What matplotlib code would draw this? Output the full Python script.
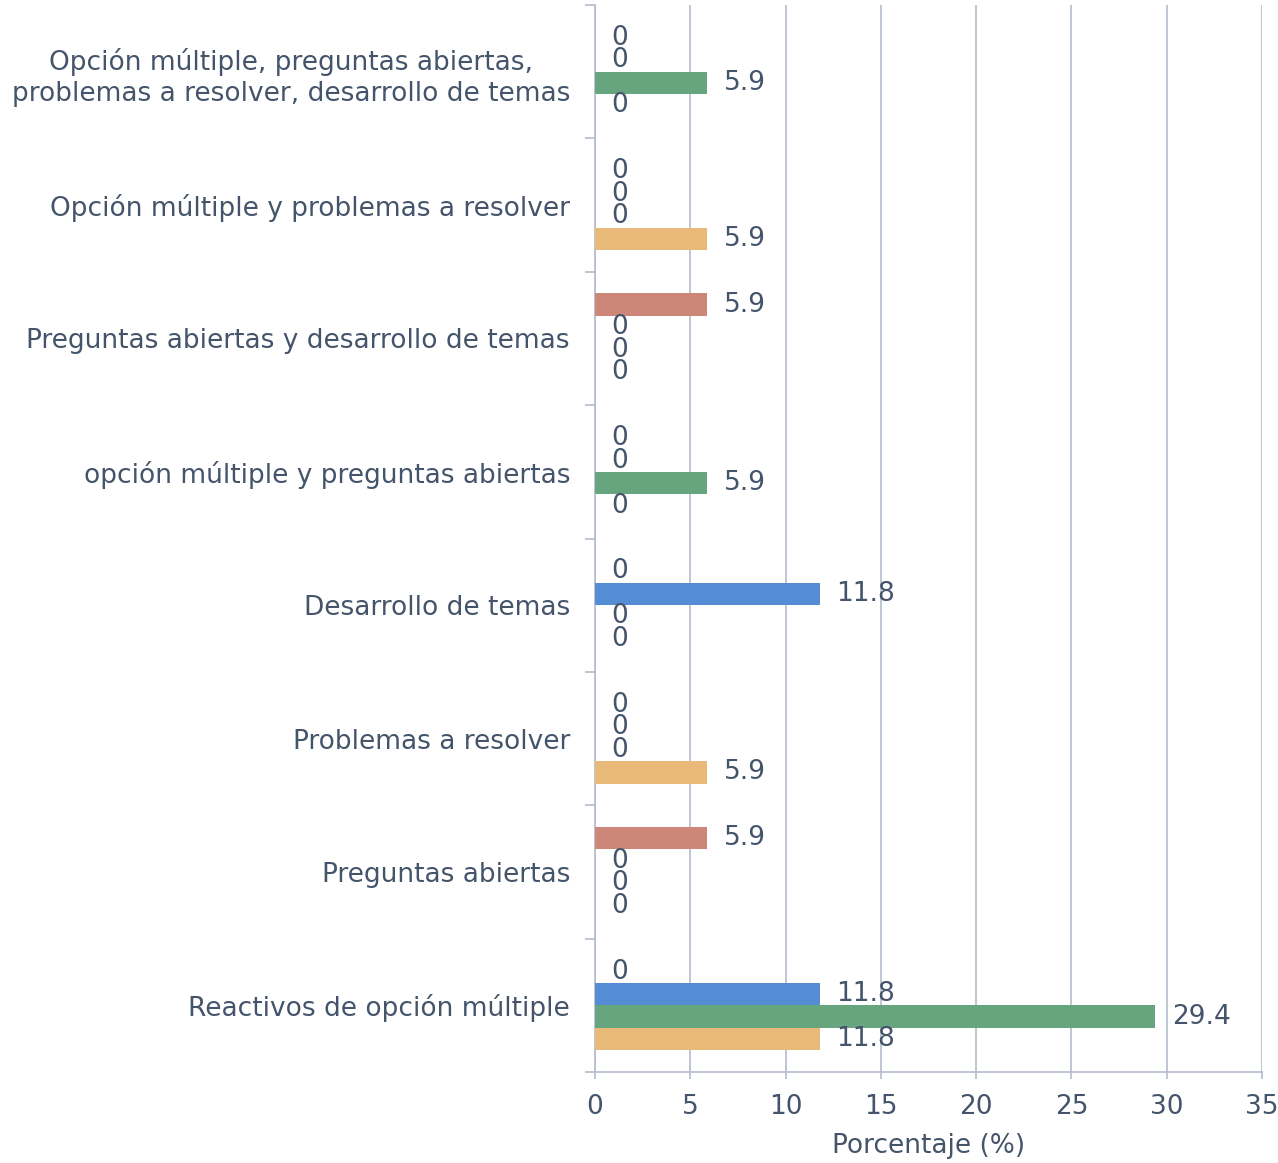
import matplotlib
matplotlib.use("Agg")
import matplotlib.pyplot as plt
import numpy as np

categories = [
    "Reactivos de opción múltiple",
    "Preguntas abiertas",
    "Problemas a resolver",
    "Desarrollo de temas",
    "opción múltiple y preguntas abiertas",
    "Preguntas abiertas y desarrollo de temas",
    "Opción múltiple y problemas a resolver",
    "Opción múltiple, preguntas abiertas,\nproblemas a resolver, desarrollo de temas",
]
# series listed top-to-bottom within each group
series_names = ["Serie 1", "Serie 2", "Serie 3", "Serie 4"]
serie1 = [0, 5.9, 0, 0, 0, 5.9, 0, 0]
serie2 = [11.8, 0, 0, 11.8, 0, 0, 0, 0]
serie3 = [29.4, 0, 0, 0, 5.9, 0, 0, 5.9]
serie4 = [11.8, 0, 5.9, 0, 0, 0, 5.9, 0]
series = [serie1, serie2, serie3, serie4]
colors = ["#CC8778", "#548DD4", "#67A57E", "#E9B97A"]
xticks = [0, 5, 10, 15, 20, 25, 30, 35]

txt = "#44546A"
grid = "#B4BCCC"
fs = 19
plt.rcParams['font.family'] = ['DejaVu Sans']

fig = plt.figure(figsize=(12.78, 11.63), dpi=100)
ax = fig.add_axes([595/1278, 1 - 1072/1163, (1262-595)/1278, (1072-5)/1163])

h = 0.169
y = np.arange(len(categories))
offsets = [1.5*h, 0.5*h, -0.5*h, -1.5*h]
for vals, col, off, name in zip(series, colors, offsets, series_names):
    bars = ax.barh(y + off, vals, height=h, color=col, label=name, zorder=3)
    for b, v in zip(bars, vals):
        lab = "0" if v == 0 else f"{v:.1f}"
        ax.annotate(lab, xy=(v, b.get_y() + b.get_height()/2), xytext=(12, 0),
                    textcoords="offset points", va="center", ha="left",
                    fontsize=fs, color=txt, zorder=4)

ax.set_xlim(0, 35)
ax.set_ylim(-0.5, len(categories) - 0.5)
ax.set_xticks(xticks)
ax.set_xticklabels([str(t) for t in xticks], fontsize=fs, color=txt)
ax.set_yticks(y)
ax.set_yticklabels(categories, fontsize=fs, color=txt, multialignment="center",
                   linespacing=1.25)
ax.set_yticks(np.arange(len(categories) + 1) - 0.5, minor=True)
ax.tick_params(axis='y', which='major', length=0, pad=18)
ax.tick_params(axis='y', which='minor', length=7, color=grid, width=1.2)
ax.tick_params(axis='x', length=5, color=grid, width=1.2, pad=11)
ax.xaxis.grid(True, color=grid, linewidth=1.2, zorder=0)
ax.set_axisbelow(True)
for s in ["top", "right"]:
    ax.spines[s].set_visible(False)
for s in ["left", "bottom"]:
    ax.spines[s].set_color(grid)
    ax.spines[s].set_linewidth(1.2)
ax.set_xlabel("Porcentaje (%)", fontsize=fs, color=txt, labelpad=9)

fig.savefig("out.png", dpi=100)
